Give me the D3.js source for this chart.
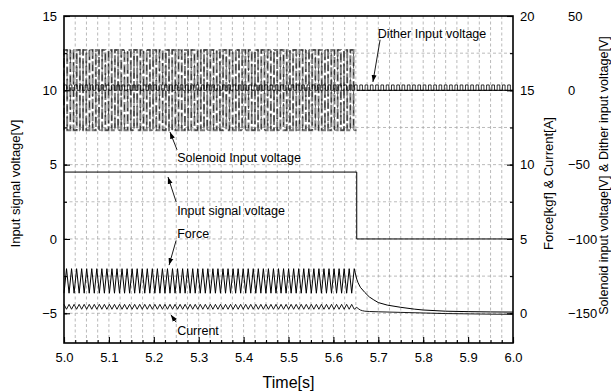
<!DOCTYPE html>
<html>
<head>
<meta charset="utf-8">
<script src="https://cdn.jsdelivr.net/npm/d3@7/dist/d3.min.js"></script>
<style>
  body { margin: 0; background: #fff; }
  svg text { font-family: "Liberation Sans", Arial, Helvetica, sans-serif; fill: #000; }
</style>
</head>
<body>
<svg id="chart" width="611" height="392"></svg>
<script>
// ---- axes ----
const timeDomain = [5.0, 6.0];
const timeTicks = [5.0, 5.1, 5.2, 5.3, 5.4, 5.5, 5.6, 5.7, 5.8, 5.9, 6.0];
const signalDomain = [-7, 15];          // Input signal voltage [V]
const signalTicks = [-5, 0, 5, 10, 15];
const forceDomain = [-2, 20];           // Force [kgf] & Current [A]
const forceTicks = [0, 5, 10, 15, 20];
const voltDomain = [-170, 50];          // Solenoid & Dither input voltage [V]
const voltTicks = [-150, -100, -50, 0, 50];

// ---- input signal voltage (step down when the valve is switched off) ----
const inputSignalT = [5.0, 5.652, 5.652, 6.0];
const inputSignalV = [4.5, 4.5, 0, 0];

// ---- switching window of the driver ----
const driveWindow = [5.0, 5.652];

// ---- solenoid input voltage: PWM levels, cycles in the window, duty ----
const solenoidLevels = [-26.8, 27.2];
const solenoidCycles = [46];
const solenoidDuty = [0.5];
const solenoidOffT = [5.652, 6.0];
const solenoidOffV = [0, 0];

// ---- dither input voltage: square wave over the whole record ----
const ditherLevels = [0, 3.6];
const ditherCycles = [85];

// ---- force ripple (trough, crest) while driven, then decay ----
const forceRipple = [1.35, 3.0];
const forceRippleCycles = [58];
const forceDecayT = [5.652, 5.655, 5.66, 5.67, 5.68, 5.69, 5.70, 5.72, 5.75, 5.78, 5.80, 5.85, 5.90, 5.95, 6.0];
const forceDecayV = [2.3, 2.05, 1.75, 1.4, 1.1, 0.9, 0.72, 0.55, 0.4, 0.28, 0.22, 0.14, 0.11, 0.09, 0.08];

// ---- current ripple (crest, trough) while driven, then decay ----
const currentRipple = [0.6, 0.27];
const currentRippleCycles = [58];
const currentDecayT = [5.652, 5.655, 5.66, 5.665, 5.67, 5.68, 5.70, 5.75, 5.80, 5.85, 5.90, 5.95, 6.0];
const currentDecayV = [0.4, 0.32, 0.22, 0.17, 0.14, 0.12, 0.1, 0.06, 0.02, -0.02, -0.04, -0.06, -0.07];

// ---- annotations, in time / input-signal units ----
const noteText = ["Dither Input voltage", "Solenoid Input voltage", "Input signal voltage", "Force", "Current"];
const noteAt = [[5.699, 13.52], [5.252, 5.17], [5.252, 1.61], [5.252, 0.06], [5.252, -6.47]];
const noteTail = [[5.704, 13.4], [5.2517, 6.0], [5.2497, 2.5], [5.2497, -0.1], [5.2497, -5.6]];
const noteTip = [[5.688, 10.56], [5.236, 7.2], [5.2316, 4.17], [5.234, -1.76], [5.238, -5.1]];

// ---------------------------------------------------------------
const svg = d3.select("#chart");
const L = 64, R = 513, T = 16, B = 343;

const x = d3.scaleLinear().domain(timeDomain).range([L, R]);
const ySig = d3.scaleLinear().domain(signalDomain).range([B, T]);
const yForce = d3.scaleLinear().domain(forceDomain).range([B, T]);
const yVolt = d3.scaleLinear().domain(voltDomain).range([B, T]);

// dashed grid
const gridT = d3.range(1, 40).map(i => timeDomain[0] + i * 0.025);
const gridV = d3.range(-5, 15, 2.5);
const grid = svg.append("g").attr("stroke", "#a8a8a8").attr("stroke-width", 0.8)
  .attr("stroke-dasharray", "3,2.5").attr("fill", "none");
grid.selectAll("line.v").data(gridT).join("line").attr("class", "v")
  .attr("x1", d => x(d)).attr("x2", d => x(d)).attr("y1", T).attr("y2", B);
grid.selectAll("line.h").data(gridV).join("line").attr("class", "h")
  .attr("x1", L).attr("x2", R).attr("y1", d => ySig(d)).attr("y2", d => ySig(d));

// helpers building the periodic traces from their levels and cycle counts
function squareWave(t0, t1, cycles, lo, hi, duty) {
  const p = (t1 - t0) / cycles, pts = [];
  for (let i = 0; i < cycles; i++) {
    const a = t0 + i * p, b = a + p * duty;
    pts.push([a, lo], [a, hi], [b, hi], [b, lo]);
  }
  pts.push([t1, lo]);
  return pts;
}
function zigzag(t0, t1, cycles, pair) {
  const p = (t1 - t0) / cycles, pts = [];
  for (let i = 0; i < cycles; i++) {
    pts.push([t0 + i * p, pair[0]], [t0 + (i + 0.5) * p, pair[1]]);
  }
  return pts;
}

const lineSig = d3.line().x(d => x(d[0])).y(d => ySig(d[1]));
const lineForce = d3.line().x(d => x(d[0])).y(d => yForce(d[1]));
const lineVolt = d3.line().x(d => x(d[0])).y(d => yVolt(d[1]));

const plot = svg.append("g").attr("fill", "none");

// solenoid input voltage
const sol = squareWave(driveWindow[0], driveWindow[1], solenoidCycles[0], solenoidLevels[0], solenoidLevels[1], solenoidDuty[0]);
plot.append("path").attr("d", lineVolt(sol))
  .attr("stroke", "#7a7a7a").attr("stroke-width", 2).attr("stroke-dasharray", "10,2.5");
plot.append("path").attr("d", lineVolt(sol))
  .attr("stroke", "#111").attr("stroke-width", 0.7).attr("stroke-dasharray", "3,6,6,4").attr("stroke-dashoffset", 3);
plot.append("path").attr("d", lineVolt(d3.zip(solenoidOffT, solenoidOffV)))
  .attr("stroke", "#000").attr("stroke-width", 1);

// dither input voltage
const dith = squareWave(timeDomain[0], timeDomain[1], ditherCycles[0], ditherLevels[0], ditherLevels[1], 0.5);
plot.append("path").attr("d", lineVolt(dith)).attr("stroke", "#000").attr("stroke-width", 0.8);

// input signal voltage
plot.append("path").attr("d", lineSig(d3.zip(inputSignalT, inputSignalV)))
  .attr("stroke", "#000").attr("stroke-width", 1);

// force
const forcePts = zigzag(driveWindow[0], driveWindow[1], forceRippleCycles[0], forceRipple)
  .concat(d3.zip(forceDecayT, forceDecayV));
plot.append("path").attr("d", lineForce(forcePts)).attr("stroke", "#000").attr("stroke-width", 1);

// current
const currentPts = zigzag(driveWindow[0], driveWindow[1], currentRippleCycles[0], currentRipple)
  .concat(d3.zip(currentDecayT, currentDecayV));
plot.append("path").attr("d", lineForce(currentPts)).attr("stroke", "#000").attr("stroke-width", 0.9);

// ---- axes ----
function styleAxis(g) {
  g.select(".domain").remove();
  g.selectAll(".tick line").attr("stroke", "#000").attr("stroke-width", 1.1);
  g.selectAll(".tick text").attr("font-size", 13).attr("font-family", "Liberation Sans, Arial, sans-serif").attr("fill", "#000");
}
const minorT = d3.range(0, 41).map(i => timeDomain[0] + i * 0.025);
svg.append("g").attr("transform", `translate(0,${B})`)
  .call(d3.axisBottom(x).tickValues(minorT).tickSize(-3).tickFormat(""))
  .call(styleAxis);
svg.append("g").attr("transform", `translate(0,${B})`)
  .call(d3.axisBottom(x).tickValues(timeTicks).tickSize(-6).tickPadding(10).tickFormat(d3.format(".1f")))
  .call(styleAxis);

svg.append("g").attr("transform", `translate(${L},0)`)
  .call(d3.axisLeft(ySig).tickValues(d3.range(-7.5, 15.1, 2.5).filter(v => v >= -7)).tickSize(-3).tickFormat(""))
  .call(styleAxis);
svg.append("g").attr("transform", `translate(${L},0)`)
  .call(d3.axisLeft(ySig).tickValues(signalTicks).tickSize(-6).tickPadding(7))
  .call(styleAxis);

svg.append("g").attr("transform", `translate(${R},0)`)
  .call(d3.axisRight(yForce).tickValues(d3.range(0, 20.1, 2.5)).tickSize(-3).tickFormat(""))
  .call(styleAxis);
svg.append("g").attr("transform", `translate(${R},0)`)
  .call(d3.axisRight(yForce).tickValues(forceTicks).tickSize(-6).tickPadding(7))
  .call(styleAxis);

svg.append("g").attr("transform", `translate(568,0)`)
  .call(d3.axisRight(yVolt).tickValues(voltTicks).tickSize(0).tickPadding(0))
  .call(styleAxis)
  .call(g => g.selectAll(".tick line").remove());

// frame
svg.append("rect").attr("x", L).attr("y", T).attr("width", R - L).attr("height", B - T)
  .attr("fill", "none").attr("stroke", "#000").attr("stroke-width", 1.6);

// axis titles
svg.append("text").attr("x", (L + R) / 2).attr("y", 388).attr("text-anchor", "middle")
  .attr("font-size", 16).text("Time[s]");
svg.append("text").attr("transform", `translate(20,${(T + B) / 2 + 4}) rotate(-90)`)
  .attr("text-anchor", "middle").attr("font-size", 13).text("Input signal voltage[V]");
svg.append("text").attr("transform", `translate(553,${(T + B) / 2 + 4}) rotate(-90)`)
  .attr("text-anchor", "middle").attr("font-size", 13).text("Force[kgf] & Current[A]");
svg.append("text").attr("transform", `translate(608,${(T + B) / 2 - 4}) rotate(-90)`)
  .attr("text-anchor", "middle").attr("font-size", 12.6).text("Solenoid input voltage[V] & Dither input voltage[V]");

// annotations with arrows
svg.append("defs").append("marker").attr("id", "arrow")
  .attr("viewBox", "0 0 10 10").attr("refX", 10).attr("refY", 5)
  .attr("markerWidth", 7).attr("markerHeight", 7).attr("markerUnits", "userSpaceOnUse")
  .attr("orient", "auto")
  .append("path").attr("d", "M0,1.5 L10,5 L0,8.5 Z").attr("fill", "#000");

const notes = svg.append("g");
noteText.forEach((txt, i) => {
  notes.append("line")
    .attr("x1", x(noteTail[i][0])).attr("y1", ySig(noteTail[i][1]))
    .attr("x2", x(noteTip[i][0])).attr("y2", ySig(noteTip[i][1]))
    .attr("stroke", "#000").attr("stroke-width", 0.9).attr("marker-end", "url(#arrow)");
  notes.append("text").attr("x", x(noteAt[i][0])).attr("y", ySig(noteAt[i][1]))
    .attr("font-size", 12.5).text(txt);
});
</script>
</body>
</html>
